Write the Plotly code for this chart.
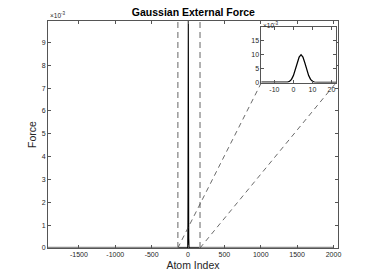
import plotly.graph_objects as go

# ---- data ----
bg_atom_index = [-1925, 2000]
bg_force = [0.0, 0.0]

atom_index = [-140, -16, -6, -5, -4, -3, -2, -1, 0, 1, 2, 3, 4, 5, 6, 7, 8, 9,
              10, 11, 12, 13, 14, 22, 165]
force = [0.0, 0.0, 0.0, 0.00001, 0.00004, 0.00014, 0.00044, 0.00114, 0.00249,
         0.00458, 0.00707, 0.00917, 0.01, 0.00917, 0.00707, 0.00458, 0.00249,
         0.00114, 0.00044, 0.00014, 0.00004, 0.00001, 0.0, 0.0, 0.0]

zoom_x = [-140, 165]          # zoomed window in the main plot

main_xrange = [-1925, 2062]
main_yrange = [0, 0.00994]
main_xticks = [-1500, -1000, -500, 0, 500, 1000, 1500, 2000]
main_xticktext = ["-1500", "-1000", "-500", "0", "500", "1000", "1500", "2000"]
main_yticks = [0, 0.001, 0.002, 0.003, 0.004, 0.005, 0.006, 0.007, 0.008, 0.009]
main_yticktext = ["0", "1", "2", "3", "4", "5", "6", "7", "8", "9"]

inset_xrange = [-16.8, 22.5]
inset_yrange = [0, 0.0199]
inset_xticks = [-10, 0, 10, 20]
inset_xticktext = ["-10", "0", "10", "20"]
inset_yticks = [0, 0.005, 0.01, 0.015]
inset_yticktext = ["0", "5", "10", "15"]

inset_dom_x = [0.736, 0.994]
inset_dom_y = [0.729, 0.973]

FONT = "Liberation Sans, Arial, sans-serif"
AX = "#555555"
TXT = "#262626"

fig = go.Figure()

# gray full-range force line
fig.add_trace(go.Scatter(x=bg_atom_index, y=bg_force, mode="lines",
                         line=dict(color="#8c8c8c", width=2.5),
                         xaxis="x", yaxis="y", showlegend=False, hoverinfo="skip"))
# black force line in zoom window
fig.add_trace(go.Scatter(x=atom_index, y=force, mode="lines",
                         line=dict(color="black", width=1.1),
                         xaxis="x", yaxis="y", showlegend=False, hoverinfo="skip"))
# inset
fig.add_trace(go.Scatter(x=atom_index, y=force, mode="lines",
                         line=dict(color="black", width=1.3),
                         xaxis="x2", yaxis="y2", showlegend=False, hoverinfo="skip"))

# zoom rectangle vertical edges (dashed gray)
for xv in zoom_x:
    fig.add_trace(go.Scatter(x=[xv, xv], y=[main_yrange[0], main_yrange[1]], mode="lines",
                             line=dict(color="#999999", width=1.5, dash="6px,4px"),
                             xaxis="x", yaxis="y", showlegend=False, hoverinfo="skip"))

# connectors from zoom rectangle to inset corners (in main data coordinates)
def to_main(px, py):
    return (main_xrange[0] + px * (main_xrange[1] - main_xrange[0]),
            main_yrange[0] + py * (main_yrange[1] - main_yrange[0]))

for xv, cx in zip(zoom_x, inset_dom_x):
    ex, ey = to_main(cx, inset_dom_y[0])
    fig.add_trace(go.Scatter(x=[xv, ex], y=[0, ey], mode="lines",
                             line=dict(color="#444444", width=0.8, dash="5px,4px"),
                             xaxis="x", yaxis="y", showlegend=False, hoverinfo="skip"))

axcommon = dict(showgrid=False, zeroline=False, showline=True, linecolor=AX, linewidth=1,
                mirror="ticks", ticks="inside", ticklen=3, tickcolor=AX, tickwidth=1,
                automargin=False,
                tickfont=dict(family=FONT, size=7, color=TXT))

fig.update_layout(
    width=374, height=280,
    margin=dict(l=48, r=36, t=21, b=32),
    paper_bgcolor="white", plot_bgcolor="white",
    title=dict(text="<b>Gaussian External Force</b>", x=0.517, xanchor="center",
               y=0.957, yanchor="middle", font=dict(family=FONT, size=10.5, color="black")),
    xaxis=dict(range=main_xrange, tickmode="array", tickvals=main_xticks,
               ticktext=main_xticktext, domain=[0, 1],
               title=dict(text="Atom Index", font=dict(family=FONT, size=10.5, color=TXT),
                          standoff=4), **axcommon),
    yaxis=dict(range=main_yrange, tickmode="array", tickvals=main_yticks,
               ticktext=main_yticktext, domain=[0, 1],
               title=dict(text="Force", font=dict(family=FONT, size=10.5, color=TXT),
                          standoff=3), **axcommon),
    xaxis2=dict(range=inset_xrange, tickmode="array", tickvals=inset_xticks,
                ticktext=inset_xticktext, domain=inset_dom_x, anchor="y2", **axcommon),
    yaxis2=dict(range=inset_yrange, tickmode="array", tickvals=inset_yticks,
                ticktext=inset_yticktext, domain=inset_dom_y, anchor="x2", **axcommon),
    shapes=[dict(type="rect", xref="paper", yref="paper",
                 x0=inset_dom_x[0], x1=inset_dom_x[1], y0=inset_dom_y[0], y1=inset_dom_y[1],
                 fillcolor="white", line=dict(width=0), layer="below")],
    annotations=[
        dict(text="×10<sup>-3</sup>", xref="paper", yref="paper", x=0.0, y=1.0,
             xanchor="left", yanchor="bottom", showarrow=False,
             font=dict(family=FONT, size=6.5, color=TXT)),
        dict(text="×10<sup>-3</sup>", xref="paper", yref="paper", x=inset_dom_x[0], y=inset_dom_y[1],
             xanchor="left", yanchor="bottom", showarrow=False, yshift=-4,
             font=dict(family=FONT, size=6.5, color=TXT)),
    ],
)

fig.write_html("out.html", config={"displayModeBar": False},
               post_script="document.body.style.margin='0';document.body.style.padding='0';")
